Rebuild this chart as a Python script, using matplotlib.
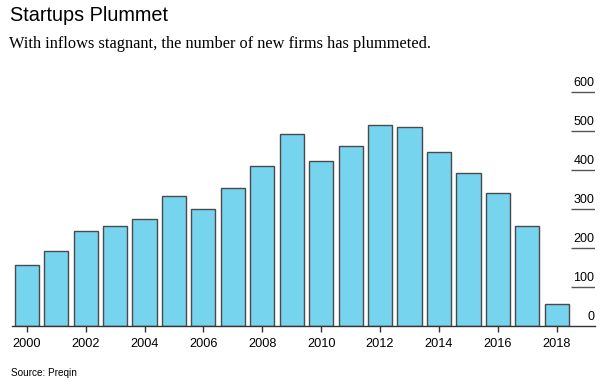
import matplotlib
matplotlib.use("Agg")
import matplotlib.pyplot as plt

years = list(range(2000, 2019))
new_firms = [155, 191, 243, 255, 274, 334, 299, 354, 411, 492, 422,
             461, 516, 509, 447, 392, 340, 256, 56]
y_ticks = [100, 200, 300, 400, 500, 600]
x_ticks = list(range(2000, 2019, 2))

bar_color = "#76d4ee"

fig = plt.figure(figsize=(6.16, 3.89), dpi=100)
ax = fig.add_axes([0.0195, 0.162, 0.9465, 0.632])

ax.bar(years, new_firms, width=0.82, color=bar_color,
       edgecolor="#4a4a4a", linewidth=1.0, zorder=2)

ax.set_xlim(1999.5, 2019.3)
ax.set_ylim(0, 630)

# right-side labels with short underline (Bloomberg style)
for v in y_ticks:
    ax.plot([2018.5, 2019.3], [v, v], color="#555555", lw=1.0,
            solid_capstyle="butt", zorder=3)
    ax.text(2019.28, v + 8, str(v), ha="right", va="bottom",
            fontsize=9, family="Liberation Sans", color="black")
ax.text(2019.28, 8, "0", ha="right", va="bottom",
        fontsize=9, family="Liberation Sans", color="black")

for s in ["top", "right", "left"]:
    ax.spines[s].set_visible(False)
ax.spines["bottom"].set_color("#333333")
ax.spines["bottom"].set_linewidth(1.0)

ax.set_yticks([])
ax.set_xticks(x_ticks)
ax.set_xticklabels([str(x) for x in x_ticks], fontsize=9.2,
                   family="Liberation Sans")
ax.tick_params(axis="x", length=4, width=1, color="#333333", pad=5)

fig.text(0.017, 0.961, "Startups Plummet", fontsize=14.3,
         family="Liberation Sans", ha="left", va="center")
fig.text(0.015, 0.886, "With inflows stagnant, the number of new firms has plummeted.",
         fontsize=11.8, family="Liberation Serif", ha="left", va="center")
fig.text(0.018, 0.041, "Source: Preqin", fontsize=7.2,
         family="Liberation Sans", ha="left", va="center")

fig.savefig("out.png", dpi=100)
